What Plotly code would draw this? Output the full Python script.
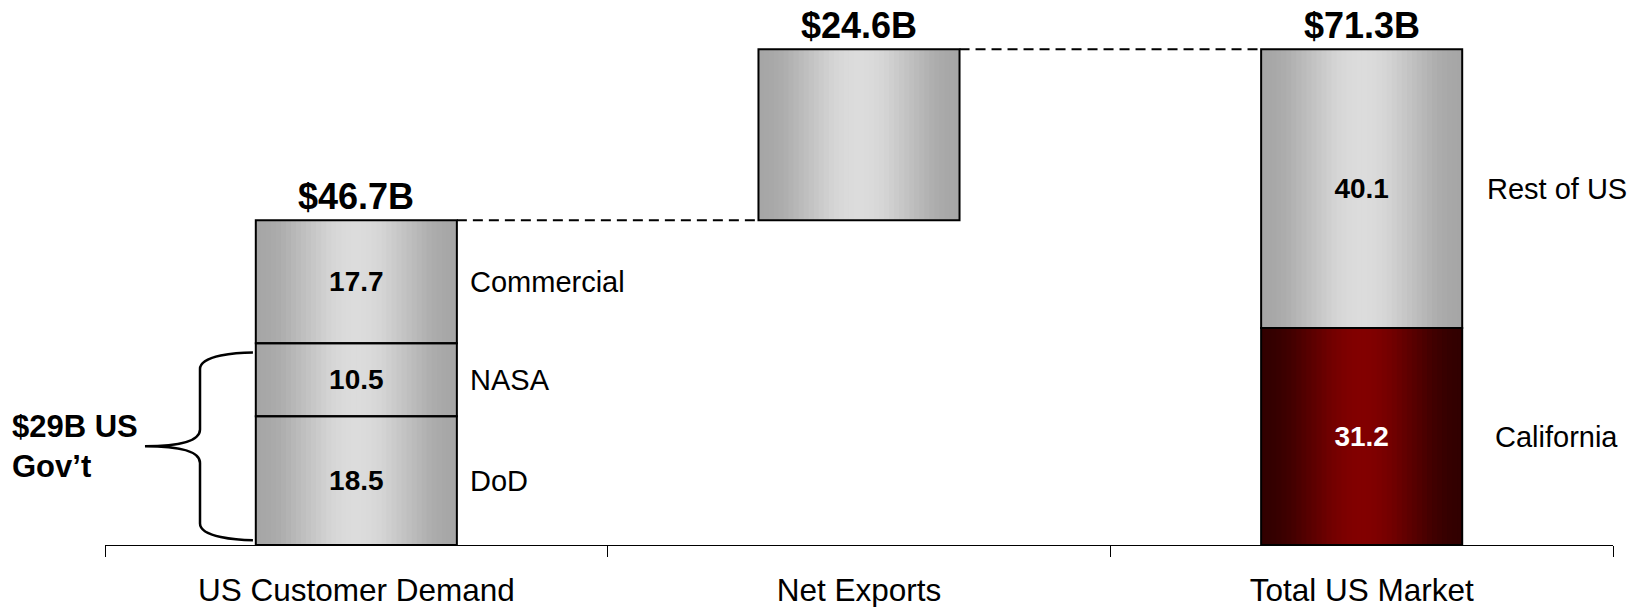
import math
import plotly.graph_objects as go

# ---------------- data ----------------
categories = ["US Customer Demand", "Net Exports", "Total US Market"]
demand_labels = ["DoD", "NASA", "Commercial"]
demand_values = [18.5, 10.5, 17.7]
net_exports_value = 24.6
market_labels = ["California", "Rest of US"]
market_values = [31.2, 40.1]
gov_label = "$29B US<br>Gov\u2019t"

# ---------------- style ----------------
BAR_W = 0.4
N_STRIPS = 40
FONT = "Arial, 'Liberation Sans', sans-serif"
YMAX = 75.5

demand_total = sum(demand_values)
market_total = sum(market_values)
gov_total = demand_values[0] + demand_values[1]

# build segment list from the data
segments = []
b = 0.0
for lab, v in zip(demand_labels, demand_values):
    segments.append(dict(x=categories[0], base=b, y=v, side=lab, kind="gray"))
    b += v
segments.append(dict(x=categories[1], base=demand_total, y=net_exports_value, side=None, kind="gray"))
b = 0.0
for lab, v, kind in zip(market_labels, market_values, ["red", "gray"]):
    segments.append(dict(x=categories[2], base=b, y=v, side=lab, kind=kind))
    b += v


def gray_color(t):
    v = 166 + 54 * (0.5 - 0.5 * math.cos(2 * math.pi * t))
    v = int(round(v))
    return f"rgb({v},{v},{v})"


def red_color(t):
    r = 50 + 80 * (0.5 - 0.5 * math.cos(2 * math.pi * t))
    return f"rgb({int(round(r))},0,0)"


fig = go.Figure()

step = BAR_W / N_STRIPS
for kind, cfn in (("gray", gray_color), ("red", red_color)):
    segs = [s for s in segments if s["kind"] == kind]
    for i in range(N_STRIPS):
        t = (i + 0.5) / N_STRIPS
        off = -BAR_W / 2 + i * step
        w = min(step * 1.6, BAR_W / 2 - off)
        fig.add_trace(go.Bar(
            x=[s["x"] for s in segs],
            y=[s["y"] for s in segs],
            base=[s["base"] for s in segs],
            offset=off, width=w,
            marker=dict(color=cfn(t), line=dict(width=0)),
            hoverinfo="skip", showlegend=False,
        ))

# outlines + inner value labels
fig.add_trace(go.Bar(
    x=[s["x"] for s in segments],
    y=[s["y"] for s in segments],
    base=[s["base"] for s in segments],
    offset=-BAR_W / 2, width=BAR_W,
    marker=dict(color="rgba(0,0,0,0)", line=dict(color="black", width=2)),
    text=[f"<b>{s['y']:.1f}</b>" if s["side"] else "" for s in segments],
    textposition="inside", insidetextanchor="middle", textangle=0,
    constraintext="none",
    textfont=dict(family=FONT, size=28,
                  color=["white" if s["kind"] == "red" else "black" for s in segments]),
    hoverinfo="skip", showlegend=False,
))

annotations = []
# totals above bars
tops = [demand_total, demand_total + net_exports_value, market_total]
vals = [demand_total, net_exports_value, market_total]
for c, top, v in zip(categories, tops, vals):
    annotations.append(dict(x=c, y=top, xref="x", yref="y", text=f"<b>${v:.1f}B</b>",
                            showarrow=False, yanchor="bottom", yshift=1,
                            font=dict(family=FONT, size=36, color="black")))


def xpaper(pos):
    return (pos + 0.5) / len(categories)


# side labels
for s in segments:
    if not s["side"]:
        continue
    idx = categories.index(s["x"])
    if idx == 0:
        annotations.append(dict(x=xpaper(idx + BAR_W / 2 + 0.022), xref="paper",
                                y=s["base"] + s["y"] / 2, yref="y", text=s["side"],
                                showarrow=False, xanchor="left", yanchor="middle",
                                font=dict(family=FONT, size=29, color="black")))
    else:
        annotations.append(dict(x=xpaper(idx + 0.388), xref="paper",
                                y=s["base"] + s["y"] / 2, yref="y", text=s["side"],
                                showarrow=False, xanchor="center", yanchor="middle",
                                font=dict(family=FONT, size=29, color="black")))

# brace label
brace_top = gov_total - 1.3
brace_bot = 0.7
brace_mid = (brace_top + brace_bot) / 2
annotations.append(dict(x=-0.063, xref="paper", y=brace_mid, yref="y", text=f"<b>{gov_label}</b>",
                        showarrow=False, xanchor="left", yanchor="middle", align="left",
                        font=dict(family=FONT, size=31, color="black")))

shapes = []
# dashed connectors
shapes.append(dict(type="line", xref="paper", yref="y",
                   x0=xpaper(0 + BAR_W / 2), x1=xpaper(1 - BAR_W / 2),
                   y0=demand_total, y1=demand_total,
                   line=dict(color="black", width=2, dash="10px,6px")))
shapes.append(dict(type="line", xref="paper", yref="y",
                   x0=xpaper(1 + BAR_W / 2), x1=xpaper(2 - BAR_W / 2),
                   y0=market_total, y1=market_total,
                   line=dict(color="black", width=2, dash="10px,6px")))

# curly brace
xt, xv, xp = 0.0981, 0.0630, 0.0265
k1 = 2.4
path = (f"M {xt},{brace_top} "
        f"C {xv + 0.025},{brace_top} {xv},{brace_top - 0.4} {xv},{brace_top - k1} "
        f"L {xv},{brace_mid + k1} "
        f"C {xv},{brace_mid + 0.9} {xv - 0.01},{brace_mid} {xp},{brace_mid} "
        f"C {xv - 0.01},{brace_mid} {xv},{brace_mid - 0.9} {xv},{brace_mid - k1} "
        f"L {xv},{brace_bot + k1} "
        f"C {xv},{brace_bot + 0.4} {xv + 0.025},{brace_bot} {xt},{brace_bot}")
shapes.append(dict(type="path", xref="paper", yref="y", path=path,
                   line=dict(color="black", width=2.5)))

fig.update_layout(
    width=1635, height=607,
    margin=dict(l=105, r=22, t=20, b=62, autoexpand=False),
    paper_bgcolor="white", plot_bgcolor="white",
    barmode="overlay",
    showlegend=False,
    annotations=annotations,
    shapes=shapes,
    xaxis=dict(type="category", categoryorder="array", categoryarray=categories,
               range=[-0.5, 2.5], tickson="boundaries", ticks="outside", ticklen=11,
               tickcolor="black", tickwidth=1.2, showline=True, linecolor="black",
               linewidth=1.2, showgrid=False, zeroline=False, ticklabelstandoff=17,
               automargin=False,
               tickfont=dict(family=FONT, size=31.5, color="black")),
    yaxis=dict(visible=False, range=[0, YMAX], showgrid=False, zeroline=False,
               automargin=False),
    font=dict(family=FONT, color="black"),
)

fig.write_html("out.html", config={"displayModeBar": False},
               post_script="document.body.style.margin='0';document.body.style.overflow='hidden';")
